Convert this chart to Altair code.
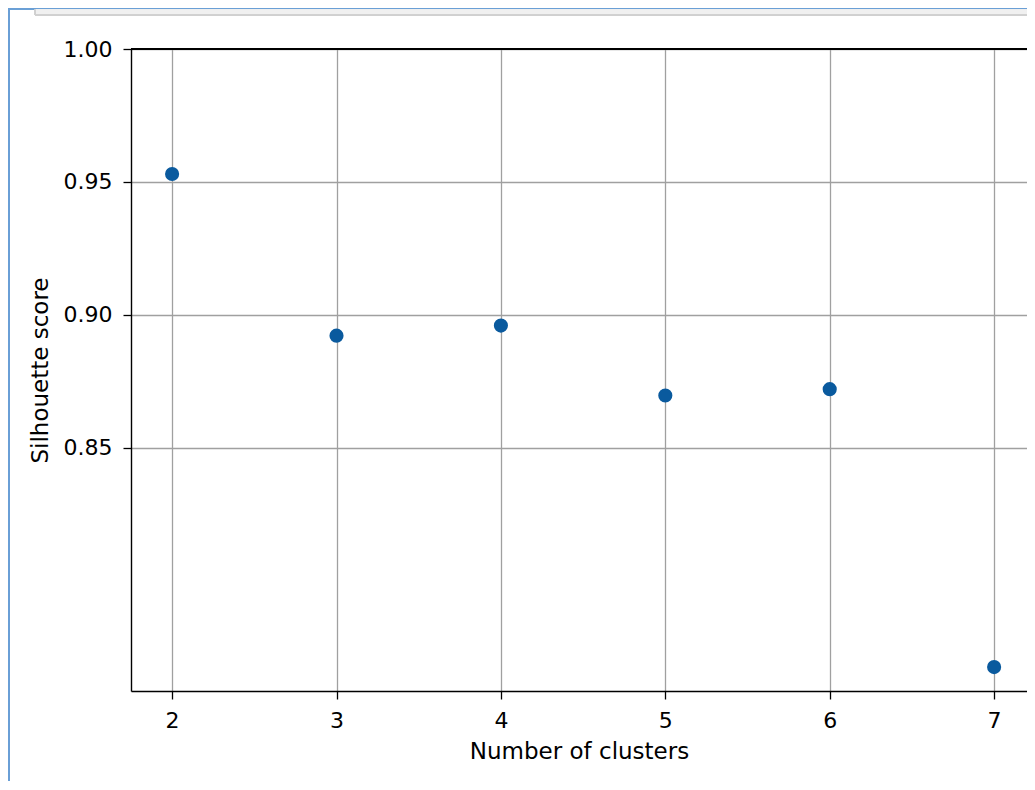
import altair as alt
import pandas as pd

clusters = [2, 3, 4, 5, 6, 7]
scores = [0.9530, 0.8922, 0.8960, 0.8697, 0.8721, 0.7676]
x_ticks = [2, 3, 4, 5, 6, 7]
y_ticks = [0.85, 0.90, 0.95, 1.00]

df = pd.DataFrame({"clusters": clusters, "score": scores})

W, H = 896, 642
FONT = "DejaVu Sans"
FS = 22
TFS = 23

points = alt.Chart(df).mark_circle(size=200, color="#0a5a9e", opacity=1).encode(
    x=alt.X("clusters:Q",
            scale=alt.Scale(domain=[1.75, 7.2], nice=False, zero=False),
            axis=alt.Axis(values=x_ticks, format="d", title="Number of clusters",
                          grid=True, gridColor="#a0a0a0", gridWidth=1.3,
                          domainColor="#000000", domainWidth=1.4,
                          tickColor="#000000", tickSize=8, tickWidth=1.3,
                          labelFont=FONT, labelFontSize=FS, labelColor="#000000",
                          labelPadding=11, titleFont=FONT, titleFontSize=TFS,
                          titleFontWeight="normal", titleColor="#000000",
                          titlePadding=9)),
    y=alt.Y("score:Q",
            scale=alt.Scale(domain=[0.7586, 1.0], nice=False, zero=False),
            axis=alt.Axis(values=y_ticks, format=".2f", title="Silhouette score",
                          grid=True, gridColor="#a0a0a0", gridWidth=1.3,
                          domainColor="#000000", domainWidth=1.4,
                          tickColor="#000000", tickSize=8, tickWidth=1.3,
                          labelFont=FONT, labelFontSize=FS, labelColor="#000000",
                          labelPadding=11, titleFont=FONT, titleFontSize=TFS,
                          titleFontWeight="normal", titleColor="#000000",
                          titlePadding=11)),
)

top_spine = alt.Chart(df).mark_rule(color="#000000", strokeWidth=1.4).encode(
    x=alt.value(0), x2=alt.value(W), y=alt.value(0)
)

# screenshot frame decorations
frame_v = alt.Chart(df).mark_rule(color="#6a9fd6", strokeWidth=2).encode(
    x=alt.value(-122), y=alt.value(-40), y2=alt.value(H + 200)
)
frame_h = alt.Chart(df).mark_rule(color="#6a9fd6", strokeWidth=1.5).encode(
    x=alt.value(-123), x2=alt.value(W), y=alt.value(-40.3)
)
bar = alt.Chart(df).mark_rect(color="#f0f0f0").encode(
    x=alt.value(-96), x2=alt.value(W), y=alt.value(-39.5), y2=alt.value(-34.5)
)
bar_line = alt.Chart(df).mark_rule(color="#d0d0d0", strokeWidth=1).encode(
    x=alt.value(-96), x2=alt.value(W), y=alt.value(-34)
)
bar_left = alt.Chart(df).mark_rule(color="#d0d0d0", strokeWidth=1).encode(
    x=alt.value(-96), y=alt.value(-39.5), y2=alt.value(-34)
)

chart = alt.layer(frame_v, frame_h, bar, bar_line, bar_left, points, top_spine).properties(
    width=W, height=H,
    autosize=alt.AutoSizeParams(type="none"),
    padding={"left": 123, "top": 41, "right": 0, "bottom": 90},
).configure_view(strokeWidth=0).configure(background="#ffffff")

chart.save("out.html", embed_options={"renderer": "svg", "actions": False})
